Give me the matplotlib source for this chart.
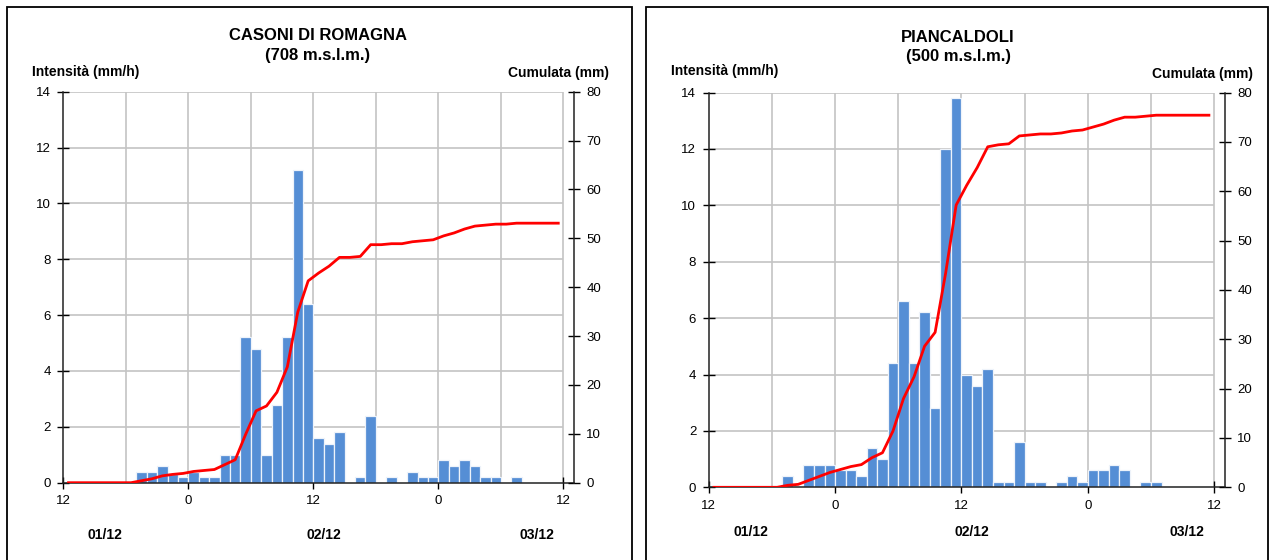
import matplotlib
matplotlib.use('Agg')
import matplotlib.pyplot as plt
from matplotlib.patches import Rectangle
import matplotlib.transforms as mtransforms

plt.rcParams['font.family'] = ['Liberation Sans', 'DejaVu Sans']

W, H = 1271, 560

# ---------------- data ----------------
hours = list(range(48))  # hourly steps from 12:00 of 01/12

casoni_title = "CASONI DI ROMAGNA\n(708 m.s.l.m.)"
casoni_int = [0, 0, 0, 0, 0, 0, 0, 0.4, 0.4, 0.6,
              0.3, 0.2, 0.4, 0.2, 0.2, 1.0, 1.0, 5.2, 4.8, 1.0,
              2.8, 5.2, 11.2, 6.4, 1.6, 1.4, 1.8, 0, 0.2, 2.4,
              0, 0.2, 0, 0.4, 0.2, 0.2, 0.8, 0.6, 0.8, 0.6,
              0.2, 0.2, 0, 0.2, 0, 0, 0, 0]
casoni_cum = [0, 0, 0, 0, 0, 0, 0, 0.4, 0.8, 1.4,
              1.7, 1.9, 2.3, 2.5, 2.7, 3.7, 4.7, 9.9, 14.7, 15.7,
              18.5, 23.7, 34.9, 41.3, 42.9, 44.3, 46.1, 46.1, 46.3, 48.7,
              48.7, 48.9, 48.9, 49.3, 49.5, 49.7, 50.5, 51.1, 51.9, 52.5,
              52.7, 52.9, 52.9, 53.1, 53.1, 53.1, 53.1, 53.1]

pianc_title = "PIANCALDOLI\n(500 m.s.l.m.)"
pianc_int = [0, 0, 0, 0, 0, 0, 0, 0.4, 0, 0.8,
             0.8, 0.8, 0.6, 0.6, 0.4, 1.4, 1.0, 4.4, 6.6, 4.4,
             6.2, 2.8, 12.0, 13.8, 4.0, 3.6, 4.2, 0.2, 0.2, 1.6,
             0.2, 0.2, 0, 0.2, 0.4, 0.2, 0.6, 0.6, 0.8, 0.6,
             0, 0.2, 0.2, 0, 0, 0, 0, 0]
pianc_cum = [0, 0, 0, 0, 0, 0, 0, 0.4, 0.6, 1.4,
             2.2, 3.0, 3.6, 4.2, 4.6, 6.0, 7.0, 11.4, 18.0, 22.4,
             28.6, 31.4, 43.4, 57.2, 61.2, 64.8, 69.0, 69.4, 69.6, 71.2,
             71.4, 71.6, 71.6, 71.8, 72.2, 72.4, 73.0, 73.6, 74.4, 75.0,
             75.0, 75.2, 75.4, 75.4, 75.4, 75.4, 75.4, 75.4]

x_tick_pos = [0, 12, 24, 36, 48]
x_tick_labels = ['12', '0', '12', '0', '12']
date_labels = ['01/12', '02/12', '03/12']
date_pos = [4, 25, 45.4]
left_label = "Intensità (mm/h)"
right_label = "Cumulata (mm)"

BAR_COLOR = '#558ed5'
GRID_COLOR = '#c4c4c4'


def fx(x):
    return x / W


def fy(y):
    return 1 - y / H


fig = plt.figure(figsize=(W / 100, H / 100), dpi=100)

# panel frames
for x0, x1 in [(7, 632), (646, 1268)]:
    fig.add_artist(Rectangle((fx(x0), -0.05), fx(x1) - fx(x0), fy(7) + 0.05,
                             fill=False, ec='black', lw=1.3,
                             transform=fig.transFigure))


def panel(px0, px1, ptop, pbot, title, intens, cum, title_cx, title_y,
          llab_x, llab_y, rlab_x, rlab_y, date_y):
    ax = fig.add_axes([fx(px0), fy(pbot), fx(px1) - fx(px0), (pbot - ptop) / H])
    ax.set_xlim(0, 49)
    ax.set_ylim(0, 14)
    ax.hlines(list(range(2, 15, 2)), 0, 48, color=GRID_COLOR, lw=1.2, zorder=1)
    ax.vlines(list(range(6, 49, 6)), 0, 14, color=GRID_COLOR, lw=1.2, zorder=1)
    ax.bar([h + 0.5 for h in hours], intens, width=1.0, color=BAR_COLOR,
           edgecolor='#eef3fa', linewidth=0.9, zorder=2)
    ax.set_yticks(list(range(0, 15, 2)))
    ax.set_xticks(x_tick_pos)
    ax.set_xticklabels(x_tick_labels)
    ax.tick_params(axis='y', direction='inout', length=8, width=1,
                   labelsize=9.5, pad=5, colors='black')
    ax.tick_params(axis='x', direction='inout', length=8, width=1,
                   labelsize=9.5, pad=5)
    for s in ['top', 'right']:
        ax.spines[s].set_visible(False)
    for s in ['left', 'bottom']:
        ax.spines[s].set_color('#222222')
        ax.spines[s].set_linewidth(1.1)

    ax2 = ax.twinx()
    ax2.set_ylim(0, 80)
    ax2.set_yticks(list(range(0, 81, 10)))
    ax2.plot([h + 0.5 for h in hours], cum, color='#ff0000', lw=2.0,
             zorder=3, solid_joinstyle='round')
    ax2.tick_params(axis='y', direction='inout', length=8, width=1,
                    labelsize=9.5, pad=5)
    for s in ['top', 'left', 'bottom']:
        ax2.spines[s].set_visible(False)
    ax2.spines['right'].set_color('#222222')
    ax2.spines['right'].set_linewidth(1.1)

    fig.text(fx(title_cx), fy(title_y), title, ha='center', va='center',
             fontsize=12, fontweight='bold', linespacing=1.35)
    fig.text(fx(llab_x), fy(llab_y), left_label, ha='left', va='center',
             fontsize=10, fontweight='bold')
    fig.text(fx(rlab_x), fy(rlab_y), right_label, ha='right', va='center',
             fontsize=10, fontweight='bold')
    tr = mtransforms.blended_transform_factory(ax.transData, fig.transFigure)
    for lab, pos in zip(date_labels, date_pos):
        fig.text(pos, fy(date_y), lab, transform=tr, ha='center', va='center',
                 fontsize=10, fontweight='bold')


panel(63.3, 573.9, 91.7, 482.7, casoni_title, casoni_int, casoni_cum,
      318, 45.5, 32, 72, 609, 73, 535)
panel(708.7, 1224.7, 92.5, 487.3, pianc_title, pianc_int, pianc_cum,
      958, 47, 671, 71, 1253, 74, 532)

fig.savefig('out.png', dpi=100)
